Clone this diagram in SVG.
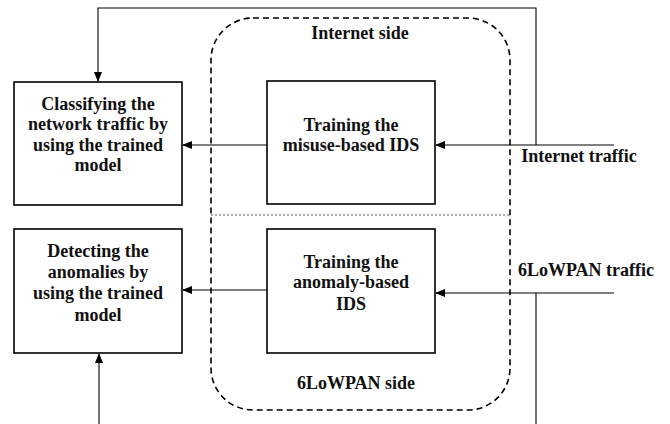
<svg xmlns="http://www.w3.org/2000/svg" width="670" height="424" viewBox="0 0 670 424">
<style>
.box{fill:#fff;stroke:#000;stroke-width:1.6}
.t{font-family:"Liberation Serif","Times New Roman",serif;font-weight:bold;font-size:18px;fill:#111;text-anchor:middle}
.c{fill:none;stroke:#000;stroke-width:1.1}
.region{fill:none;stroke:#000;stroke-width:1.6;stroke-dasharray:6,4}
.div{fill:none;stroke:#555;stroke-width:1;stroke-dasharray:2,2}
</style>
<defs>
<marker id="ah" markerWidth="10" markerHeight="8" refX="9" refY="4" orient="auto" markerUnits="userSpaceOnUse">
<path d="M0,0 L10,4 L0,8 z" fill="#000"/>
</marker>
</defs>
<rect width="670" height="424" fill="#fff"/>
<g id="regions">
<rect class="region" x="211" y="18" width="299" height="392" rx="42" ry="42"/>
<line class="div" x1="211" y1="215" x2="510" y2="215"/>
<text class="t" x="360" y="39">Internet side</text>
<text class="t" x="356" y="389">6LoWPAN side</text>
</g>
<g id="connectors">
<polyline class="c" points="536,145 536,8 98,8 98,81" marker-end="url(#ah)"/>
<line class="c" x1="614" y1="145" x2="436" y2="145" marker-end="url(#ah)"/>
<line class="c" x1="267" y1="145" x2="183" y2="145" marker-end="url(#ah)"/>
<line class="c" x1="614" y1="293" x2="436" y2="293" marker-end="url(#ah)"/>
<line class="c" x1="536" y1="293" x2="536" y2="424"/>
<line class="c" x1="267" y1="290" x2="183" y2="290" marker-end="url(#ah)"/>
<line class="c" x1="99" y1="424" x2="99" y2="354" marker-end="url(#ah)"/>
</g>
<g id="classify">
<rect class="box" x="14" y="82" width="168" height="123"/>
<text class="t" x="98" y="110">Classifying the</text>
<text class="t" x="98" y="130">network traffic by</text>
<text class="t" x="98" y="151">using the trained</text>
<text class="t" x="98" y="171">model</text>
</g>
<g id="misuse">
<rect class="box" x="267" y="81" width="168" height="123"/>
<text class="t" x="351" y="131">Training the</text>
<text class="t" x="351" y="151">misuse-based IDS</text>
</g>
<g id="detect">
<rect class="box" x="14" y="229" width="168" height="124"/>
<text class="t" x="98" y="257">Detecting the</text>
<text class="t" x="98" y="278">anomalies by</text>
<text class="t" x="98" y="299">using the trained</text>
<text class="t" x="98" y="321">model</text>
</g>
<g id="anomaly">
<rect class="box" x="267" y="229" width="168" height="124"/>
<text class="t" x="351" y="268">Training the</text>
<text class="t" x="351" y="288">anomaly-based</text>
<text class="t" x="351" y="310">IDS</text>
</g>
<g id="labels">
<text class="t" x="579" y="162">Internet traffic</text>
<text class="t" x="586" y="276">6LoWPAN traffic</text>
</g>
</svg>
